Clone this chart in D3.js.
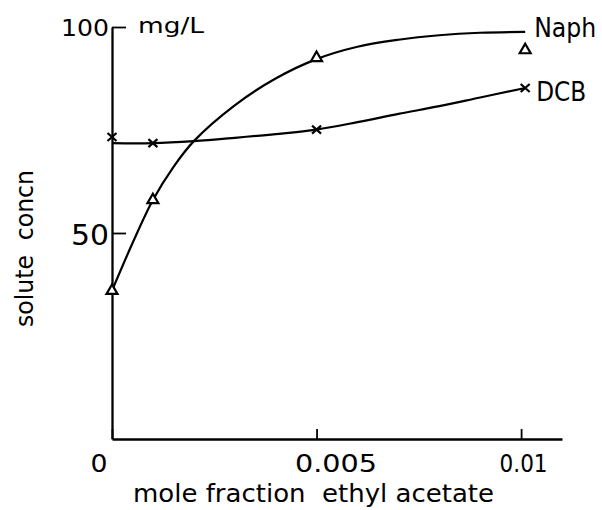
<!DOCTYPE html>
<html>
<head>
<meta charset="utf-8">
<script src="https://cdn.jsdelivr.net/npm/d3@7"></script>
<style>
  body { margin: 0; background: #fff; }
  svg { display: block; }
  text { font-family: "DejaVu Sans", sans-serif; fill: #000; }
</style>
</head>
<body>
<svg id="chart" width="602" height="510"></svg>
<script>
// Measured solute concentrations (mg/L) vs mole fraction of ethyl acetate
const naphX = [0, 0.001, 0.005, 0.0101];
const naphY = [36, 58, 92.5, 94.4];
const dcbX = [0, 0.001, 0.005, 0.0101];
const dcbY = [73.3, 71.8, 75.1, 85.2];

// Hand-fitted trend curves through the measurements
const naphCurveX = [0, 0.0005, 0.001, 0.0015, 0.002, 0.003, 0.004, 0.005, 0.006, 0.007, 0.008, 0.009, 0.0101];
const naphCurveY = [36, 47.5, 58, 66, 72.3, 81, 87.5, 92.2, 95.2, 96.9, 98, 98.6, 98.8];
const dcbCurveX = [0, 0.001, 0.002, 0.003, 0.004, 0.005, 0.006, 0.007, 0.008, 0.009, 0.0101];
const dcbCurveY = [71.8, 71.8, 72.3, 73.1, 74, 75.1, 76.9, 78.9, 80.8, 82.9, 85.2];

// Axis ticks and labels
const xTicks = [0, 0.005, 0.01];
const xTickLabels = ["0", "0.005", "0.01"];
const yTicks = [50, 100];
const yTickLabels = ["50", "100"];

const svg = d3.select("#chart");
const x = d3.scaleLinear().domain([0, 0.011]).range([112, 562]);
const y = d3.scaleLinear().domain([0, 100]).range([439, 27]);

const ink = "#000";

// x axis with inward ticks
const xAxis = svg.append("g")
  .attr("transform", `translate(0,${y(0)})`)
  .call(d3.axisBottom(x).tickValues(xTicks).tickSize(-10).tickSizeOuter(0)
    .tickFormat((d, i) => xTickLabels[i]));
xAxis.select(".domain").attr("stroke", ink).attr("stroke-width", 2.3);
xAxis.selectAll(".tick line").attr("stroke", ink).attr("stroke-width", 1.8);
const xLabelWidths = [17, 82, 48];
xAxis.selectAll(".tick text")
  .attr("text-anchor", "start")
  .attr("x", -22)
  .attr("y", 33)
  .attr("dy", null)
  .attr("font-size", 25)
  .attr("font-family", "DejaVu Sans")
  .attr("textLength", (d, i) => xLabelWidths[i])
  .attr("lengthAdjust", "spacingAndGlyphs");

// y axis with inward ticks
const yAxis = svg.append("g")
  .attr("transform", `translate(${x(0)},0)`)
  .call(d3.axisLeft(y).tickValues(yTicks).tickSize(-14).tickSizeOuter(0)
    .tickFormat((d, i) => yTickLabels[i]));
yAxis.select(".domain").attr("stroke", ink).attr("stroke-width", 2.3);
yAxis.selectAll(".tick line").attr("stroke", ink).attr("stroke-width", 1.8);
const yLabelWidths = [38, 48];
const yLabelSizes = [29, 23];
yAxis.selectAll(".tick text")
  .attr("text-anchor", "end")
  .attr("x", -3)
  .attr("dy", (d, i) => i === 0 ? 11 : 8)
  .attr("font-size", (d, i) => yLabelSizes[i])
  .attr("font-family", "DejaVu Sans")
  .attr("textLength", (d, i) => yLabelWidths[i])
  .attr("lengthAdjust", "spacingAndGlyphs");

// unit label at the top of the y axis
svg.append("text")
  .attr("x", 138).attr("y", 33)
  .attr("font-size", 21)
  .attr("textLength", 66).attr("lengthAdjust", "spacingAndGlyphs")
  .text("mg/L");

// axis titles
svg.append("text")
  .attr("x", 133).attr("y", 502)
  .attr("font-size", 24)
  .attr("textLength", 361).attr("lengthAdjust", "spacingAndGlyphs")
  .style("white-space", "pre")
  .text("mole fraction  ethyl acetate");

svg.append("text")
  .attr("transform", "translate(33,327) rotate(-90)")
  .attr("font-size", 24)
  .attr("textLength", 157).attr("lengthAdjust", "spacingAndGlyphs")
  .style("white-space", "pre")
  .text("solute  concn");

// trend curves
const line = d3.line().x(d => x(d[0])).y(d => y(d[1])).curve(d3.curveCatmullRom.alpha(0.5));
const naphCurve = naphCurveX.map((v, i) => [v, naphCurveY[i]]);
const dcbCurve = dcbCurveX.map((v, i) => [v, dcbCurveY[i]]);

svg.append("path").datum(naphCurve)
  .attr("d", line).attr("fill", "none").attr("stroke", ink).attr("stroke-width", 2.2);
svg.append("path").datum(dcbCurve)
  .attr("d", line).attr("fill", "none").attr("stroke", ink).attr("stroke-width", 2.2);

// Naphthalene markers: open triangles
const tri = d3.symbol().type(d3.symbolTriangle).size(52);
svg.append("g").selectAll("path")
  .data(naphX.map((v, i) => [v, naphY[i]]))
  .join("path")
  .attr("d", tri)
  .attr("transform", d => `translate(${x(d[0])},${y(d[1])})`)
  .attr("fill", "#fff").attr("stroke", ink).attr("stroke-width", 2.2);

// DCB markers: crosses
const cross = "M-4.5,-4L4.5,4M-4.5,4L4.5,-4";
svg.append("g").selectAll("path")
  .data(dcbX.map((v, i) => [v, dcbY[i]]))
  .join("path")
  .attr("d", cross)
  .attr("transform", d => `translate(${x(d[0])},${y(d[1])})`)
  .attr("fill", "none").attr("stroke", ink).attr("stroke-width", 2.2);

// series labels at the end of each curve
const lastNaph = naphCurve[naphCurve.length - 1];
const lastDcb = dcbCurve[dcbCurve.length - 1];
svg.append("text")
  .attr("x", x(lastNaph[0]) + 9).attr("y", y(lastNaph[1]) + 5)
  .attr("font-size", 26)
  .attr("textLength", 62).attr("lengthAdjust", "spacingAndGlyphs")
  .text("Naph");
svg.append("text")
  .attr("x", x(lastDcb[0]) + 11).attr("y", y(lastDcb[1]) + 13)
  .attr("font-size", 26)
  .attr("textLength", 50).attr("lengthAdjust", "spacingAndGlyphs")
  .text("DCB");
</script>
</body>
</html>
